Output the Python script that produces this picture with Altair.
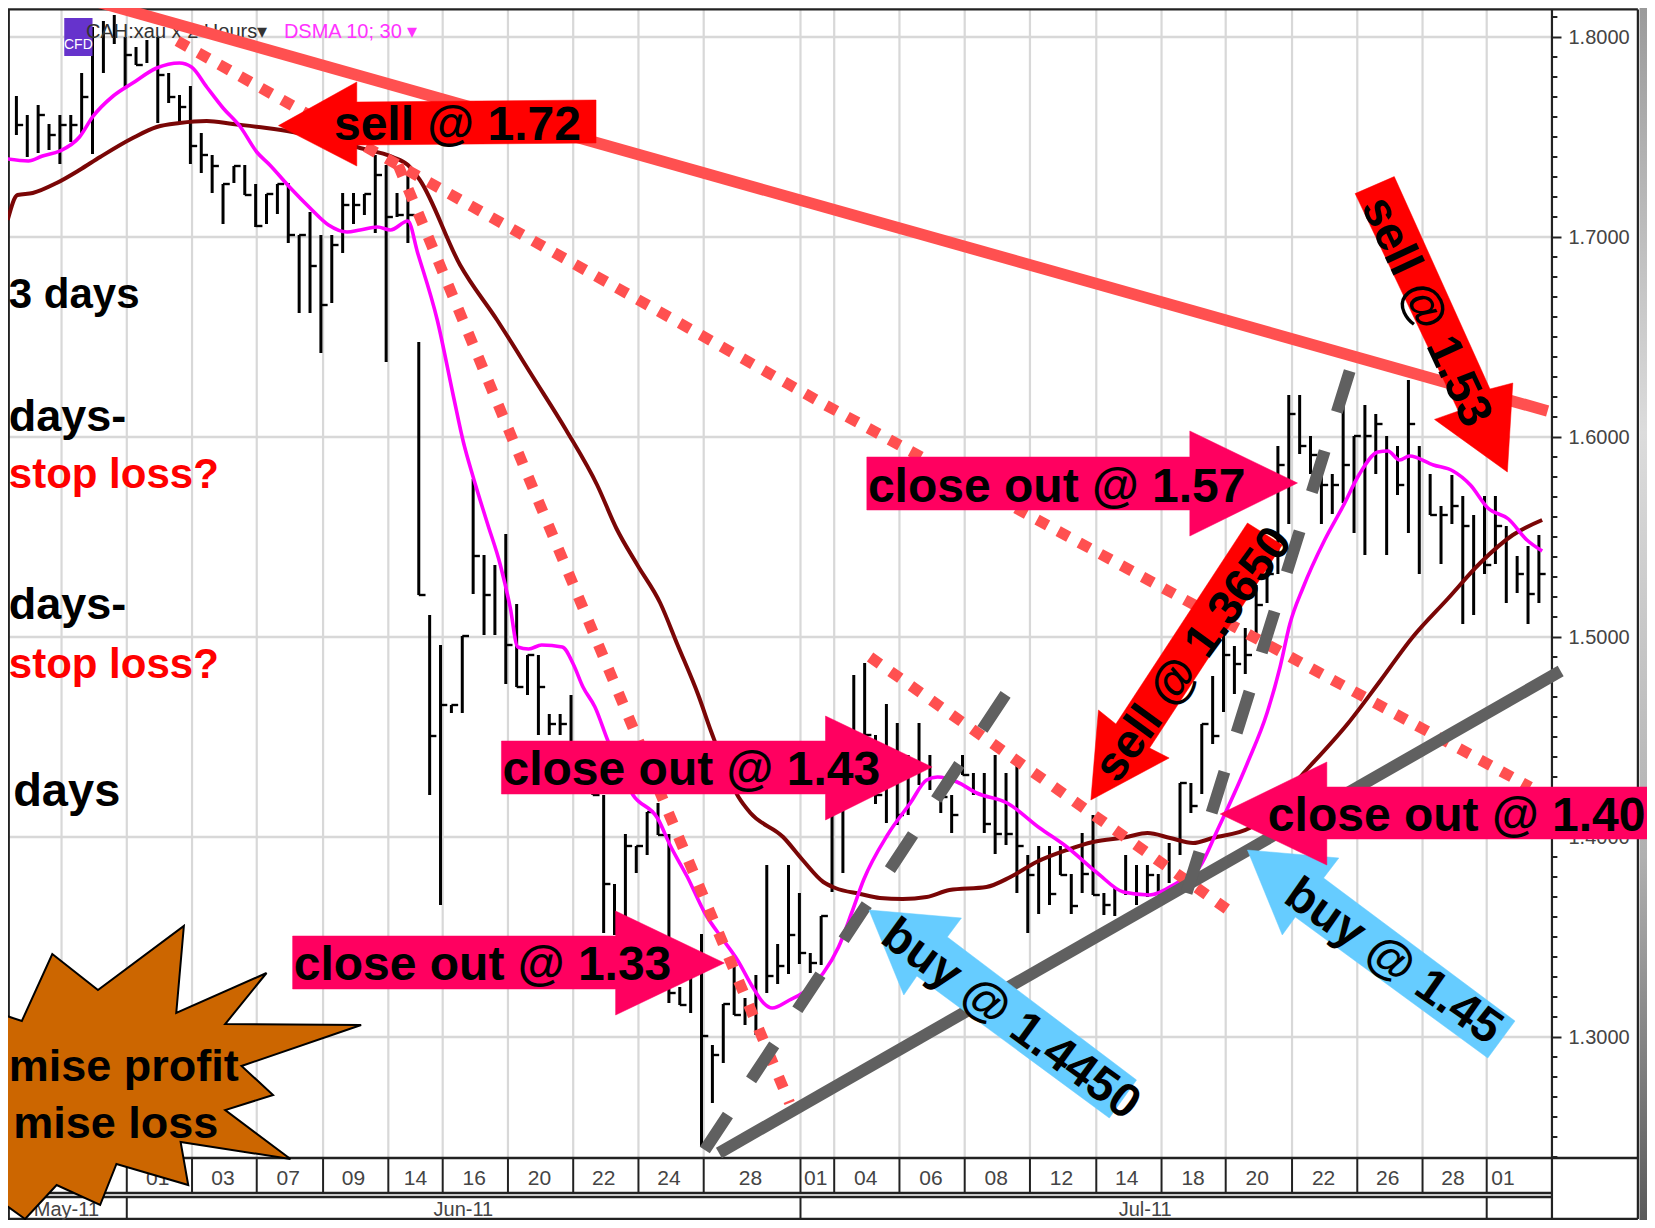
import altair as alt
import pandas as pd

# ---- price bars (bar index = position in list) ----
highs = [1.7705,1.761,1.766,1.7565,1.761,1.761,1.782,1.805,1.808,1.811,1.800,1.795,1.7985,1.800,1.782,1.771,1.7755,1.752,1.741,1.7265,
         1.7355,1.736,1.7265,1.7215,1.7265,1.727,1.701,1.7125,1.701,1.701,1.722,1.722,1.7215,1.741,1.736,1.722,1.731,1.6475,1.511,1.496,
         1.466,1.5005,1.579,1.541,1.536,1.5515,1.5165,1.491,1.491,1.4615,1.4615,1.471,1.446,1.4385,1.421,1.3765,1.4015,1.3955,1.4125,1.417,
         1.4015,1.325,1.330,1.3515,1.296,1.3165,1.3385,1.3195,1.331,1.386,1.3465,1.386,1.372,1.342,1.3605,1.4185,1.4185,1.481,1.487,1.451,
         1.4665,1.457,1.441,1.457,1.441,1.421,1.421,1.441,1.432,1.432,1.441,1.432,1.4365,1.391,1.3955,1.3955,1.3955,1.3815,1.402,1.411,
         1.372,1.3745,1.391,1.386,1.386,1.3815,1.397,1.427,1.427,1.4565,1.4805,1.501,1.4955,1.5045,1.526,1.5385,1.5955,1.621,1.621,1.6005,
         1.5815,1.5815,1.6155,1.6005,1.616,1.6115,1.6005,1.5955,1.6285,1.5955,1.5815,1.5655,1.581,1.5705,1.561,1.5705,1.5705,1.5555,1.5405,1.5455,1.551]
lows = [1.751,1.740,1.742,1.7435,1.7365,1.7475,1.752,1.7415,1.782,1.7965,1.7745,1.786,1.787,1.757,1.767,1.757,1.7365,1.732,1.722,1.7065,
        1.727,1.721,1.705,1.7065,1.7115,1.697,1.662,1.662,1.642,1.667,1.692,1.7065,1.711,1.702,1.6375,1.710,1.697,1.521,1.421,1.366,
        1.462,1.462,1.5215,1.501,1.501,1.4765,1.475,1.471,1.451,1.451,1.451,1.429,1.4335,1.421,1.352,1.351,1.3585,1.382,1.391,1.401,
        1.317,1.316,1.312,1.245,1.267,1.287,1.311,1.306,1.301,1.322,1.3265,1.3315,1.3365,1.332,1.336,1.3725,1.382,1.446,1.4385,1.4165,
        1.407,1.406,1.411,1.426,1.4235,1.412,1.402,1.431,1.421,1.402,1.3915,1.396,1.372,1.352,1.3615,1.366,1.381,1.3615,1.372,1.371,
        1.361,1.3605,1.371,1.366,1.370,1.371,1.377,1.391,1.412,1.4215,1.4465,1.4625,1.4715,1.4815,1.502,1.517,1.5315,1.5565,1.5915,1.5815,
        1.5565,1.5615,1.567,1.552,1.541,1.5815,1.541,1.571,1.552,1.5315,1.561,1.5365,1.5565,1.5065,1.511,1.5315,1.5365,1.517,1.522,1.5065,1.517]
closes = [1.756,None,1.761,1.751,1.756,1.756,1.770,None,None,None,1.791,1.786,None,1.781,1.770,1.765,1.7455,1.741,1.7355,1.7265,
          1.7355,1.721,1.7055,1.7215,1.7265,1.701,1.701,1.6855,1.666,1.696,1.716,1.716,1.7215,1.731,1.710,1.711,1.711,1.521,1.4505,1.466,
          1.466,1.5005,1.5405,1.521,None,1.496,1.475,1.491,1.475,1.4565,1.4565,None,None,1.421,1.3765,None,1.3955,1.3955,1.4125,1.401,
          1.322,1.316,None,1.3005,1.291,1.3165,1.311,None,None,1.3305,1.3355,1.351,1.342,1.337,1.3605,None,None,None,1.451,1.421,
          None,1.411,None,None,None,1.420,1.411,1.431,None,1.4065,1.4015,1.4015,1.3955,1.381,None,1.3715,1.381,1.3655,1.3815,1.371,
          1.366,None,None,None,1.381,None,None,1.427,1.4155,1.4565,1.4505,1.491,1.4865,1.491,1.516,1.5315,1.586,1.6115,1.5955,1.591,
          1.576,1.576,1.586,1.6005,1.6005,1.6065,None,1.576,1.6065,None,1.561,1.561,1.5655,1.5555,None,1.536,1.5555,None,1.5315,1.5215,1.5315]

# ---- moving averages ----
fast_i = [-0.8,1.1,2.4,4.0,5.8,7.0,8.9,10.7,12.9,15.0,16.1,17.5,19.0,20.6,22.1,23.3,25.2,27.0,28.7,30.4,31.6,33.2,34.4,36.0,36.9,38.7,40.2,41.1,42.0,43.3,44.5,45.4,46.1,47.1,48.3,50.2,51.2,52.1,53.2,54.4,56.7,59.0,60.1,61.7,63.3,65.0,66.3,67.7,68.7,69.5,71.1,72.3,74.2,75.6,76.8,77.9,80.1,82.2,83.7,84.7,86.5,88.3,91.1,94.1,96.6,99.4,101.8,104.2,106.7,108.8,110.4,113.2,115.0,116.2,117.1,118.3,120.3,122.0,123.5,125.2,126.1,127.2,128.1,130.3,132.1,133.7,135.3,137.2,138.9,140.3]
fast_p = [1.739,1.738,1.7405,1.743,1.750,1.760,1.7705,1.777,1.7845,1.787,1.785,1.775,1.7645,1.755,1.7425,1.736,1.7245,1.7145,1.706,1.7025,1.7035,1.705,1.7035,1.708,1.692,1.6585,1.620,1.5975,1.580,1.557,1.536,1.515,1.495,1.494,1.496,1.495,1.4865,1.475,1.465,1.448,1.421,1.409,1.396,1.380,1.362,1.3485,1.3385,1.325,1.317,1.3145,1.3185,1.322,1.332,1.345,1.362,1.3785,1.401,1.417,1.4285,1.430,1.4275,1.422,1.417,1.4045,1.395,1.382,1.3725,1.371,1.377,1.385,1.403,1.437,1.462,1.485,1.5065,1.5245,1.5485,1.5655,1.5815,1.5925,1.593,1.5885,1.5905,1.586,1.583,1.576,1.5645,1.559,1.5485,1.543]
slow_i = [-0.8,0.1,1.5,3.7,5.8,7.7,10.7,12.9,15.0,17.5,19.9,23.0,25.4,31.6,34.6,36.0,37.1,40.8,44.2,47.5,50.6,53.4,55.2,57.1,59.2,60.8,62.7,63.9,66.4,67.5,70.5,72.3,74.2,75.3,77.6,79.4,81.5,83.7,85.8,89.2,91.4,93.8,96.6,99.0,102.1,104.0,106.1,108.2,110.0,113.4,118.7,122.4,125.4,128.4,131.6,134.6,137.6,140.3]
slow_p = [1.7085,1.721,1.722,1.727,1.7335,1.740,1.7495,1.755,1.757,1.758,1.7565,1.7545,1.7525,1.7445,1.740,1.736,1.7285,1.686,1.6585,1.630,1.603,1.576,1.554,1.536,1.517,1.496,1.471,1.4525,1.420,1.412,1.400,1.3885,1.3775,1.3745,1.3715,1.3695,1.369,1.370,1.3735,1.375,1.380,1.3875,1.3935,1.3975,1.400,1.402,1.3995,1.397,1.3995,1.4045,1.434,1.4565,1.478,1.500,1.519,1.537,1.551,1.5585]

# ---- grid / axis ----
grid_i = [4.15,10.15,16.15,22.1,28.2,34.2,39.2,45.2,51.2,57.2,63.2,72.1,75.2,81.2,87.2,93.2,99.3,105.3,111.2,117.3,123.3,129.3,135.2]
price_ticks = [1.3,1.4,1.5,1.6,1.7,1.8]
day_labels = ["01","03","07","09","14","16","20","22","24","28","01","04","06","08","12","14","18","20","22","26","28","01"]
day_i = [13.0,19.0,25.0,31.0,36.7,42.1,48.1,54.0,60.0,67.5,73.5,78.1,84.1,90.1,96.1,102.1,108.2,114.1,120.2,126.1,132.1,136.7]
month_labels = ["May-11","Jun-11","Jul-11"]
month_i = [4.6,41.1,103.8]
month_div_i = [10.15,72.1,135.2]

# ---- trend lines: (bar index, price) ----
resist_i, resist_p = [7.5,140.8],[1.8175,1.613]
dot_a_i, dot_a_p = [14.8,74.4,139.2],[1.798,1.616,1.425]
dot_b_i, dot_b_p = [35.1,71.1],[1.736,1.267]
dot_c_i, dot_c_p = [78.5,111.3],[1.490,1.364]
support_i, support_p = [64.6,142.0],[1.242,1.483]
dash_d_i, dash_d_p = [63.3,91.1],[1.2435,1.4725]
dash_e_i, dash_e_p = [107.6,122.6],[1.372,1.633]

# ---- annotation shapes: (bar index, price) ----
RED, PINK, BLUE, ORANGE = "#ff0000", "#ff0060", "#66ccff", "#cc6600"
sell172 = ([24.1,31.3,31.3,53.3,53.3,31.3,31.3],[1.7557,1.7775,1.7675,1.7685,1.747,1.746,1.7355])
close157 = ([78.2,107.9,107.9,117.8,107.9,107.9,78.2],[1.590,1.590,1.603,1.577,1.5505,1.5635,1.5635])
close143 = ([44.6,74.4,74.4,84.2,74.4,74.4,44.6],[1.448,1.448,1.4605,1.435,1.4085,1.4215,1.4215])
close133 = ([25.4,55.1,55.1,65.1,55.1,55.1,25.4],[1.3505,1.3505,1.363,1.337,1.311,1.324,1.324])
close140 = ([110.7,120.5,120.5,150.3,150.3,120.5,120.5],[1.4115,1.4375,1.425,1.425,1.399,1.399,1.386])
sell153 = ([123.1,126.7,135.5,137.6,137.1,130.4,132.6],[1.7217,1.7302,1.624,1.627,1.5825,1.6088,1.613])
sell1365 = ([98.8,99.5,101.1,113.2,116.4,104.2,106.0],[1.4185,1.4635,1.4565,1.557,1.546,1.4445,1.4395])
buy1445 = ([78.4,86.9,85.6,103.0,100.5,82.8,81.6],[1.3635,1.3595,1.350,1.2785,1.2595,1.3305,1.321])
buy145 = ([113.2,121.6,120.2,137.8,135.3,117.6,116.4],[1.3935,1.3895,1.3795,1.308,1.2895,1.360,1.351])
star_i = [-2,0.5,3.3,7.5,15.4,14.7,23.0,19.2,31.7,20.7,23.6,19.2,25.2,15.1,15.8,9.2,7.7,3.7,0.8,-2]
star_p = [1.3125,1.308,1.3415,1.3235,1.3555,1.312,1.332,1.3065,1.306,1.2855,1.271,1.2635,1.239,1.2475,1.226,1.2365,1.216,1.226,1.209,1.22]

W, H = 1639, 1212
X_LEFT, X_RIGHT = -0.7724, 149.94
Y_BOTTOM, Y_TOP = 1.2085, 1.8145
x_scale = alt.Scale(domain=[X_LEFT, X_RIGHT], nice=False, zero=False)
y_scale = alt.Scale(domain=[Y_BOTTOM, Y_TOP], nice=False, zero=False)
X = alt.X("x:Q", scale=x_scale, axis=None)
Y = alt.Y("y:Q", scale=y_scale, axis=alt.Axis(
    orient="right", offset=-95, values=price_ticks, format=".4f", title=None, grid=False, domain=False,
    tickSize=9, tickWidth=2, tickColor="#222222", labelPadding=7, labelColor="#444444",
    labelFont="Liberation Sans", labelFontSize=20, labelBaseline="middle"))

def rules(rows, color, width, dash=None):
    kw = dict(color=color, strokeWidth=width)
    if dash:
        kw["strokeDash"] = dash
    return alt.Chart(pd.DataFrame(rows, columns=["x","x2","y","y2"])).mark_rule(**kw).encode(
        x=X, x2="x2:Q", y=Y, y2="y2:Q")

def polyline(xs, ys, color, width, dash=None, interp=None):
    kw = dict(color=color, strokeWidth=width, strokeCap="butt")
    if dash:
        kw["strokeDash"] = dash
    if interp:
        kw["interpolate"] = interp
    df = pd.DataFrame({"x": xs, "y": ys, "o": range(len(xs))})
    return alt.Chart(df).mark_line(**kw).encode(x=X, y=Y, order="o:Q")

def poly(shape, fill, stroke=None, sw=0.5):
    df = pd.DataFrame({"x": shape[0], "y": shape[1], "o": range(len(shape[0]))})
    return alt.Chart(df).mark_line(interpolate="linear-closed", fill=fill, stroke=stroke or fill, strokeWidth=sw,
                                   strokeJoin="miter").encode(x=X, y=Y, order="o:Q")

def text(s, x, y, color="black", size=48, align="left", angle=0, baseline="alphabetic", font="Liberation Sans", weight="bold"):
    kw = dict(color=color, fontSize=size, align=align, baseline=baseline, font=font, fontWeight=weight)
    if angle:
        kw["angle"] = angle
    return alt.Chart(pd.DataFrame({"x":[x],"y":[y],"t":[s]})).mark_text(**kw).encode(x=X, y=Y, text="t:N")

layers = []

# right-hand gradient band
band = alt.Chart(pd.DataFrame({"x":[149.25],"x2":[X_RIGHT],"y":[Y_TOP],"y2":[Y_BOTTOM]})).mark_rect(
    color=alt.Gradient(gradient="linear", x1=0, x2=0, y1=0, y2=1,
        stops=[alt.GradientStop(offset=0, color="#9a9a9a"), alt.GradientStop(offset=0.35, color="#dcdcdc"),
               alt.GradientStop(offset=0.7, color="#b0b0b0"), alt.GradientStop(offset=1, color="#5a5a5a")])
).encode(x=X, x2="x2:Q", y=Y, y2="y2:Q")
layers.append(band)

# gridlines
layers.append(rules([[v,v,1.8135,1.2395] for v in grid_i], "#d8d8d8", 2.2))
layers.append(rules([[X_LEFT,141.2,p,p] for p in price_ticks], "#d8d8d8", 2.6))

# frames, x-axis cells
GREY_DARK = "#222222"
ROW_BOTTOM = 1.2090
layers.append(rules([[X_LEFT,149.1,1.2395,1.2395],[X_LEFT,141.2,1.222,1.222],[X_LEFT,141.2,1.220,1.220],[X_LEFT,149.1,ROW_BOTTOM,ROW_BOTTOM],[X_LEFT,149.1,1.8138,1.8138]], GREY_DARK, 2.4))
layers.append(rules([[v,v,1.2395,1.222] for v in grid_i[1:]], GREY_DARK, 2))
layers.append(rules([[v,v,1.220,ROW_BOTTOM] for v in month_div_i], GREY_DARK, 2))
layers.append(rules([[141.2,141.2,1.8138,ROW_BOTTOM],[149.1,149.1,1.8138,ROW_BOTTOM],[-0.7,-0.7,1.8138,ROW_BOTTOM]], GREY_DARK, 2.2))
minor = [round(1.24 + k*0.01, 2) for k in range(58)]
layers.append(rules([[141.2,141.7,m,m] for m in minor if round(m*100) % 10], GREY_DARK, 2))
for s, v in zip(day_labels, day_i):
    layers.append(text(s, v, 1.2258, "#444444", 21, "center", weight="normal"))
for s, v in zip(month_labels, month_i):
    layers.append(text(s, v, 1.2105, "#444444", 20, "center", weight="normal"))

# price bars
n = len(highs)
layers.append(rules([[i,i,highs[i],lows[i]] for i in range(n)], "black", 3))
layers.append(rules([[i,i+0.62,closes[i],closes[i]] for i in range(n) if closes[i] is not None], "black", 2.4))

# legend strip
layers.append(rules([[4.4,7.0,1.8,1.8]], "#6633cc", 38))
layers.append(text("CFD", 5.7, 1.794, "white", 14, "center", weight="normal"))
layers.append(text("CAH:xau x 2 Hours\u25be", 6.4, 1.7995, "#333333", 20, weight="normal"))
layers.append(text("DSMA 10; 30 \u25be", 24.6, 1.7995, "#ff33ff", 20, weight="normal"))

# moving averages
layers.append(polyline(slow_i, slow_p, "#7a0606", 4, interp="monotone"))
layers.append(polyline(fast_i, fast_p, "#ff00ff", 3.6, interp="monotone"))

# trend lines
layers.append(polyline(resist_i, resist_p, "#ff5050", 11.5))
layers.append(polyline(dot_a_i, dot_a_p, "#ff5050", 11, dash=[12,12]))
layers.append(polyline(dot_b_i, dot_b_p, "#ff5050", 11, dash=[12,14]))
layers.append(polyline(dot_c_i, dot_c_p, "#ff5050", 11, dash=[12,13]))
layers.append(polyline(support_i, support_p, "#606060", 12))
layers.append(polyline(dash_d_i, dash_d_p, "#606060", 12, dash=[42,42]))
layers.append(polyline(dash_e_i, dash_e_p, "#606060", 12, dash=[43,41]))

# arrows
layers += [poly(sell172, RED), poly(close157, PINK), poly(close143, PINK), poly(close133, PINK),
           poly(buy145, BLUE), poly(buy1445, BLUE), poly(close140, PINK), poly(sell153, RED), poly(sell1365, RED)]
layers.append(text("sell @ 1.72", 29.2, 1.7485))
layers.append(text("close out  @ 1.57", 78.3, 1.5675))
layers.append(text("close out  @ 1.43", 44.7, 1.426))
layers.append(text("close out  @ 1.33", 25.5, 1.3285))
layers.append(text("close out  @ 1.40", 149.8, 1.403, align="right"))
layers.append(text("sell @ 1.53", 129.6, 1.6625, angle=65, align="center", baseline="middle"))
layers.append(text("sell @ 1.3650", 108.3, 1.491, angle=306, align="center", baseline="middle"))
layers.append(text("buy @ 1.4450", 91.4, 1.3085, angle=36, align="center", baseline="middle"))
layers.append(text("buy @ 1.45", 126.6, 1.3375, angle=35, align="center", baseline="middle"))

# side notes
layers.append(text("3 days", -0.7, 1.6645, size=42))
layers.append(text("days-", -0.7, 1.603, size=45))
layers.append(text("stop loss?", -0.7, 1.5745, RED, size=42))
layers.append(text("days-", -0.7, 1.509, size=45))
layers.append(text("stop loss?", -0.7, 1.4795, RED, size=42))
layers.append(text("days", -0.3, 1.4155, size=47))

# starburst
layers.append(poly((star_i, star_p), ORANGE, "black", 2))
layers.append(text("mise profit", -0.7, 1.278, size=45))
layers.append(text("mise loss", -0.3, 1.2495, size=45))

chart = alt.layer(*layers).properties(
    width=W, height=H, padding=0, autosize=alt.AutoSizeParams(type="none"), background="white"
).configure_view(stroke=None)

chart.save("out.html", embed_options={"renderer": "svg", "actions": False})
